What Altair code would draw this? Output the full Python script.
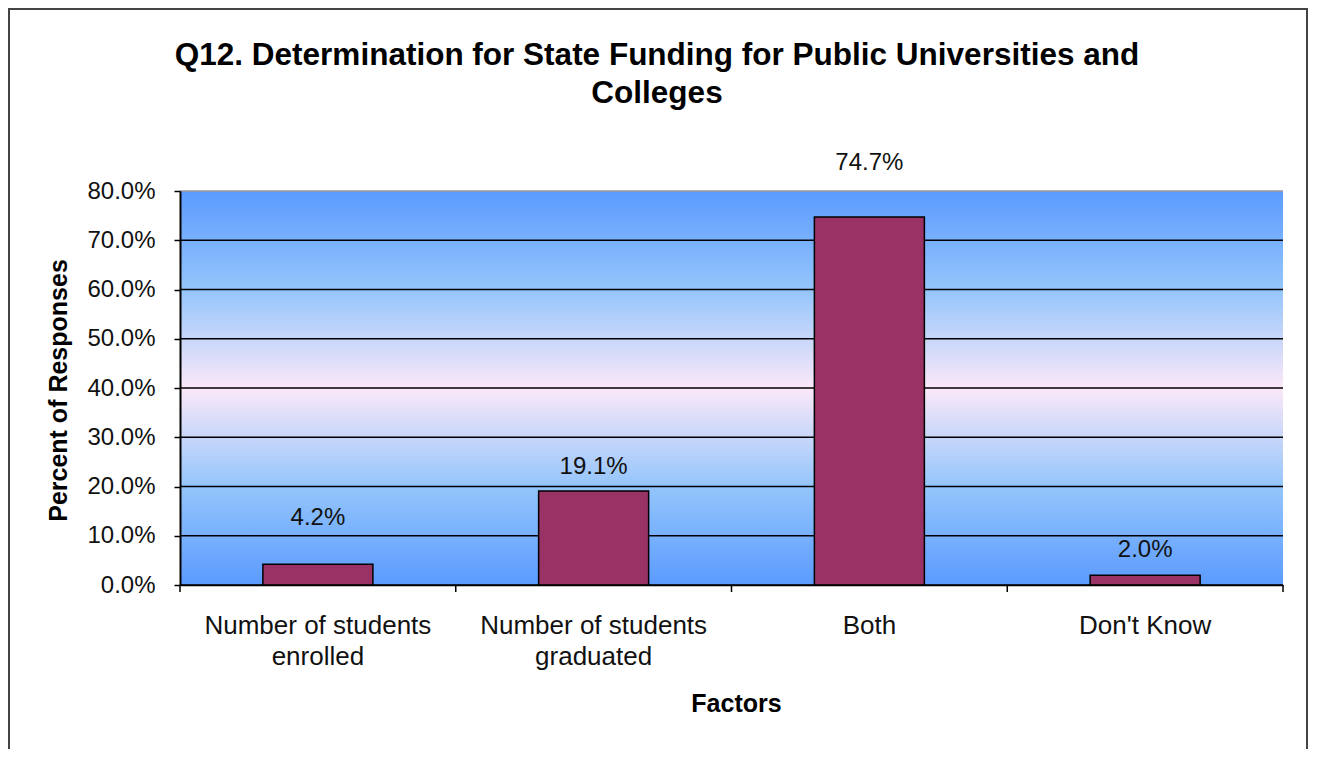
import altair as alt
import pandas as pd

# ---- data ----
categories = ["Number of students enrolled", "Number of students graduated", "Both", "Don't Know"]
category_labels = ["Number of students\nenrolled", "Number of students\ngraduated", "Both", "Don't Know"]
percents = [4.2, 19.1, 74.7, 2.0]
y_ticks = [0, 10, 20, 30, 40, 50, 60, 70, 80]
title_lines = ["Q12. Determination for State Funding for Public Universities and", "Colleges"]
y_title = "Percent of Responses"
x_title = "Factors"

# ---- style ----
W, H = 1103, 394
FONT = "Liberation Sans"
BAR = "#993366"
label_dy = {categories[0]: -46, categories[1]: -24, categories[2]: -54, categories[3]: -25}

df = pd.DataFrame({"category": categories, "label": category_labels, "percent": percents})
ticks_df = pd.DataFrame({"tick": y_ticks})

x_axis = alt.Axis(
    title=x_title,
    titleFont=FONT, titleFontSize=25, titleFontWeight="bold", titleColor="black",
    titleX=556, titleY=118, titleBaseline="middle", titleAlign="center",
    labels=False, ticks=False,
    domainColor="black", domainWidth=1.5, grid=False, zindex=1,
)
x_scale = alt.Scale(paddingInner=0, paddingOuter=0)


def xenc(**kw):
    return alt.X("category:N", sort=None, scale=x_scale, axis=x_axis, **kw)


y_scale = alt.Scale(domain=[0, 80], nice=False)
y_axis = alt.Axis(
    title=y_title,
    titleFont=FONT, titleFontSize=25, titleFontWeight="bold", titleColor="black",
    titleX=-122, titleY=199, titleBaseline="middle", titleAlign="center", titleAngle=270,
    values=y_ticks,
    labelExpr="format(datum.value, '.1f') + '%'",
    labelFont=FONT, labelFontSize=24, labelColor="#111111", labelPadding=19,
    tickSize=6, tickColor="black", tickWidth=1.5,
    domainColor="black", domainWidth=2, grid=False, zindex=1,
)

background = alt.Chart(alt.Data(values=[{}])).mark_rect(
    fill=alt.Gradient(
        gradient="linear",
        stops=[
            alt.GradientStop(offset=0, color="#5b9bff"),
            alt.GradientStop(offset=0.25, color="#94c5fb"),
            alt.GradientStop(offset=0.5, color="#fbe8f8"),
            alt.GradientStop(offset=0.75, color="#94c5fb"),
            alt.GradientStop(offset=1, color="#5b9bff"),
        ],
        x1=0, x2=0, y1=0, y2=1,
    )
).encode(x=alt.value(0), x2=alt.value(W), y=alt.value(0), y2=alt.value(H))

grid = alt.Chart(ticks_df).mark_rule(strokeWidth=1.5).encode(
    y=alt.Y("tick:Q", scale=y_scale, axis=y_axis),
    x=alt.value(0), x2=alt.value(W),
    color=alt.condition(alt.datum.tick == 80, alt.value("#9a9a9a"), alt.value("black")),
)

bars = alt.Chart(df).mark_bar(
    color=BAR, stroke="black", strokeWidth=1.5, size=110
).encode(x=xenc(), y=alt.Y("percent:Q", scale=y_scale, axis=y_axis))

label_layers = []
for c in categories:
    label_layers.append(
        alt.Chart(df).transform_filter(alt.datum.category == c)
        .transform_calculate(lbl="format(datum.percent, '.1f') + '%'")
        .mark_text(font=FONT, fontSize=24, color="#111111", baseline="middle", dy=label_dy[c])
        .encode(x=xenc(), y=alt.Y("percent:Q", scale=y_scale, axis=y_axis), text="lbl:N")
    )

x_ticks = alt.Chart(df).mark_rule(color="black", strokeWidth=1.5).encode(
    x=xenc(bandPosition=0), y=alt.value(H), y2=alt.value(H + 7)
)
x_tick_end = alt.Chart(alt.Data(values=[{}])).mark_rule(color="black", strokeWidth=1.5).encode(
    x=alt.value(W), y=alt.value(H), y2=alt.value(H + 7)
)

x_labels = alt.Chart(df).mark_text(
    font=FONT, fontSize=26, color="#111111", lineBreak="\n", lineHeight=31,
    align="center", baseline="top",
).encode(x=xenc(), y=alt.value(H + 28), text="label:N")

title = alt.Chart(alt.Data(values=[{}])).mark_text(
    text=title_lines, font=FONT, fontSize=31.5, fontWeight="bold", color="black",
    lineHeight=38, align="center", baseline="middle",
).encode(x=alt.value(477), y=alt.value(-135))

border = alt.Chart(alt.Data(values=[{}])).mark_rect(
    fill="transparent", stroke="#444444", strokeWidth=2
).encode(x=alt.value(-171), x2=alt.value(1127), y=alt.value(-182), y2=alt.value(600))

chart = alt.layer(
    background, grid, bars, *label_layers, x_ticks, x_tick_end, x_labels, title, border
).properties(
    width=W, height=H,
    autosize=alt.AutoSizeParams(type="none"),
    padding={"left": 172, "top": 183, "right": 26, "bottom": 164},
    background="white",
).configure_view(stroke=None)

chart.save("out.html", embed_options={"renderer": "svg", "actions": False})
